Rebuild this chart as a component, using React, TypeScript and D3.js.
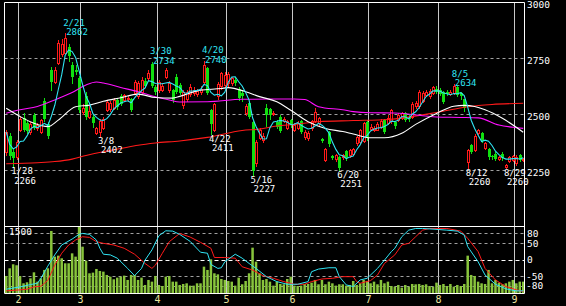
import React from "react";
import * as d3 from "d3";

const dates: string[] = [
  "1/26","1/27","1/28","1/31",
  "2/1","2/2","2/3","2/4","2/7","2/8","2/9","2/10","2/14","2/15","2/16","2/17","2/18","2/21","2/22","2/24","2/25","2/28",
  "3/1","3/2","3/3","3/4","3/7","3/8","3/9","3/10","3/11","3/14","3/15","3/16","3/17","3/18","3/22","3/23","3/24","3/25","3/28","3/29","3/30","3/31",
  "4/1","4/4","4/5","4/6","4/7","4/8","4/11","4/12","4/13","4/14","4/15","4/18","4/19","4/20","4/21","4/22","4/25","4/26","4/27","4/28",
  "5/2","5/6","5/9","5/10","5/11","5/12","5/13","5/16","5/17","5/18","5/19","5/20","5/23","5/24","5/25","5/26","5/27","5/30","5/31",
  "6/1","6/2","6/3","6/6","6/7","6/8","6/9","6/10","6/13","6/14","6/15","6/16","6/17","6/20","6/21","6/22","6/23","6/24","6/27","6/28","6/29","6/30",
  "7/1","7/4","7/5","7/6","7/7","7/8","7/11","7/12","7/13","7/14","7/15","7/19","7/20","7/21","7/22","7/25","7/26","7/27","7/28","7/29",
  "8/1","8/2","8/3","8/4","8/5","8/8","8/9","8/10","8/12","8/15","8/16","8/17","8/18","8/19","8/22","8/23","8/24","8/25","8/26","8/29","8/30","8/31",
  "9/1","9/2","9/5"
];

const opens: number[] = [
  2330,2405,2330,2310,
  2432,2482,2462,2420,2497,2440,2420,2560,2455,2700,2645,2730,2770,2775,2800,2720,2700,2660,
  2510,2580,2490,2490,2418,2420,2440,2520,2525,2530,2565,2583,2565,2570,2570,2595,2580,2600,2650,2662,2725,2623,
  2608,2610,2668,2610,2608,2665,2630,2540,2570,2590,2595,2590,2598,2645,2705,2520,2432,2580,2625,2630,
  2640,2640,2655,2612,2595,2505,2550,2465,2283,2395,2385,2528,2525,2505,2467,2490,2470,2440,2475,
  2430,2440,2468,2398,2393,2438,2470,2460,2390,2297,2420,2312,2300,2310,2308,2335,2320,2325,2370,2378,2380,2467,
  2435,2430,2432,2445,2475,2460,2468,2467,2475,2482,2504,2490,2490,2535,2535,2560,2585,2580,2595,2615,
  2610,2600,2600,2590,2594,2623,2595,2567,2285,2363,2341,2415,2415,2350,2345,2315,2325,2300,2325,2263,2290,2295,
  2282,2320,2295
];
const highs: number[] = [
  2430,2415,2345,2385,
  2490,2505,2470,2465,2505,2460,2480,2575,2465,2710,2710,2830,2835,2862,2815,2735,2720,2670,
  2545,2600,2540,2495,2445,2480,2490,2565,2560,2575,2575,2590,2590,2580,2575,2655,2650,2665,2660,2700,2734,2630,
  2655,2640,2705,2650,2615,2680,2640,2610,2610,2635,2620,2615,2625,2740,2712,2525,2550,2645,2690,2690,
  2690,2668,2665,2620,2610,2545,2555,2470,2385,2440,2415,2545,2530,2515,2475,2495,2490,2475,2480,
  2460,2470,2475,2430,2425,2475,2530,2490,2395,2350,2425,2320,2325,2315,2325,2340,2345,2350,2405,2435,2465,2475,
  2455,2450,2465,2480,2480,2495,2525,2472,2505,2512,2510,2495,2555,2560,2610,2605,2610,2612,2628,2625,
  2618,2605,2608,2610,2634,2625,2600,2570,2345,2368,2410,2435,2420,2378,2350,2320,2330,2315,2330,2280,2315,2320,
  2320,2325,2305
];
const lows: number[] = [
  2320,2300,2266,2300,
  2425,2425,2415,2410,2435,2430,2415,2470,2395,2610,2640,2725,2760,2770,2740,2640,2680,2510,
  2500,2480,2485,2445,2410,2402,2435,2515,2515,2525,2525,2540,2560,2560,2515,2590,2575,2595,2620,2655,2620,2590,
  2600,2605,2660,2600,2555,2595,2590,2530,2560,2580,2585,2580,2590,2640,2590,2411,2425,2570,2615,2620,
  2625,2630,2632,2565,2560,2495,2485,2227,2270,2390,2378,2450,2480,2495,2440,2420,2465,2435,2445,
  2425,2435,2418,2390,2385,2430,2465,2450,2375,2290,2360,2300,2290,2251,2300,2298,2310,2318,2365,2370,2375,2385,
  2430,2425,2428,2440,2418,2455,2462,2440,2470,2478,2470,2470,2485,2528,2530,2555,2580,2575,2590,2595,
  2585,2550,2585,2585,2590,2580,2570,2515,2260,2328,2335,2410,2378,2345,2300,2300,2298,2295,2298,2260,2285,2290,
  2275,2290,2290
];
const closes: number[] = [
  2420,2312,2305,2378,
  2478,2432,2425,2455,2440,2452,2474,2478,2405,2645,2700,2820,2815,2840,2760,2665,2690,2520,
  2530,2490,2515,2460,2437,2470,2480,2556,2550,2565,2534,2545,2585,2572,2520,2645,2640,2653,2628,2683,2625,2600,
  2646,2628,2698,2640,2565,2600,2595,2600,2600,2622,2608,2605,2615,2718,2595,2455,2545,2635,2683,2675,
  2680,2660,2640,2572,2580,2535,2490,2245,2378,2430,2405,2495,2495,2505,2445,2425,2480,2468,2453,
  2452,2460,2423,2422,2415,2468,2512,2482,2380,2345,2368,2305,2318,2262,2320,2305,2340,2343,2400,2430,2460,2393,
  2445,2440,2455,2470,2420,2485,2518,2447,2497,2504,2475,2477,2548,2552,2600,2596,2600,2605,2623,2600,
  2590,2556,2590,2600,2626,2587,2580,2527,2340,2333,2405,2430,2383,2372,2308,2310,2302,2308,2305,2275,2310,2312,
  2310,2295,2300
];
const volumes: number[] = [
  381,553,643,621,
  381,217,240,329,463,254,329,516,553,1389,814,836,777,665,665,888,814,1478,
  1037,724,441,456,538,493,478,404,366,307,344,366,389,292,404,404,292,344,180,292,254,381,
  180,157,366,381,254,254,180,202,217,165,165,217,217,590,516,754,441,418,314,292,
  269,254,165,344,195,269,441,1015,702,441,292,314,254,165,254,202,195,314,366,
  165,157,165,202,202,232,292,195,292,195,254,217,165,195,195,165,180,269,180,217,292,269,
  217,254,195,292,217,254,157,142,180,120,180,142,202,195,202,180,195,157,142,232,
  180,202,157,202,142,180,157,202,836,404,381,254,217,202,516,217,292,232,195,217,254,292,
  217,254,254
];

// 25-day moving average (white) at sample days
const ma25Idx: number[] = [0,4,8,12,15,20,24,28,33,38,43,48,50,56,62,64,69,73,78,82,87,92,97,100,105,109,114,118,124,129,132,135,138,143,149];
const ma25Val: number[] = [2527,2490,2460,2445,2474,2534,2541,2558,2574,2590,2575,2572,2580,2608,2615,2619,2601,2579,2556,2518,2467,2437,2423,2412,2395,2395,2415,2455,2504,2536,2540,2535,2520,2482,2420];
// 75-day moving average (magenta)
const ma75Idx: number[] = [0,4,9,14,19,23,26,28,33,38,43,47,50,58,68,76,83,86,90,97,100,105,112,124,131,136,142,146,149];
const ma75Val: number[] = [2505,2520,2535,2564,2597,2631,2644,2640,2620,2601,2578,2564,2555,2556,2567,2568,2568,2566,2534,2520,2512,2507,2506,2488,2486,2484,2452,2442,2437];
// long moving average (red)
const maLongIdx: number[] = [0,9,14,19,23,28,33,38,43,50,58,68,73,78,83,90,100,110,124,133,140,149];
const maLongVal: number[] = [2279,2284,2289,2300,2316,2333,2347,2362,2372,2381,2397,2428,2434,2448,2455,2467,2472,2477,2508,2534,2544,2549];

// RCI lines (lower panel)
const rciFastIdx: number[] = [0,4,7,9,10,12,14,16,19,21,22,24,26,27,28,30,32,35,37,39,40,42,44,46,48,50,53,56,58,59,61,62,63,66,68,70,72,75,78,81,84,87,88,90,93,95,96,98,100,102,104,107,109,111,112,114,116,118,120,123,127,130,132,133,136,138,141,144,147,149];
const rciFastVal: number[] = [-90,-83,-76,-72,-57,-20,14,44,62,76,79,76,59,34,16,14,4,-27,-49,-27,-2,29,72,87,86,76,55,22,19,-15,-27,-25,-7,16,4,-12,-27,-52,-67,-75,-75,-67,-37,-29,-25,-25,-52,-77,-82,-62,-57,-27,-2,24,34,69,89,94,94,92,89,86,74,39,-7,-47,-75,-89,-95,-95];
const rciSlowIdx: number[] = [0,4,6,8,10,12,14,16,18,20,22,24,26,28,31,34,37,40,42,43,45,47,50,53,56,59,60,63,66,68,71,74,77,80,83,86,88,91,94,97,100,101,102,105,107,109,112,114,116,118,120,122,127,131,133,136,138,141,144,147,149];
const rciSlowVal: number[] = [-95,-92,-90,-83,-81,-63,-17,19,44,59,69,67,54,49,44,34,16,-12,-27,-17,19,54,79,68,52,34,6,6,4,-22,-32,-49,-57,-67,-75,-75,-67,-59,-57,-52,-52,-67,-72,-64,-47,-12,14,44,49,69,89,94,94,86,64,24,-27,-62,-82,-92,-97];

const hiMarks: number[] = [17, 42, 57, 129];
const loMarks: number[] = [2, 27, 59, 71, 96, 133, 144];
const priceTicks: number[] = [3000, 2750, 2500, 2250];
const rciTicks: number[] = [80, 50, 0, -50, -80];
const volMax = 1500;

const RED = "#ff1a1a";
const GREEN = "#10e010";
const CYAN = "#30e4f4";
const MAGENTA = "#ff10ff";
const VOL = "#88c43c";
const FONT = "DejaVu Sans Mono";

export default function App() {
  const N = closes.length;
  const L = 4.5, R = 524.5, TOP = 2.5, MID = 226.5, BOT = 293.5;
  const x = d3.scaleLinear().domain([0, N - 1]).range([6.2, 6.2 + (N - 1) * 3.47]);
  const yP = d3.scaleLinear().domain([2000, 3000]).range([226.3, 2.3]);
  const yV = d3.scaleLinear().domain([0, volMax]).range([293, 226]);
  const yR = d3.scaleLinear().domain([-100, 100]).range([292.5, 226.5]);

  const ma5 = closes.map((_, i) => d3.mean(closes.slice(Math.max(0, i - 4), i + 1)) as number);
  const lineIdx = d3.line<number>().x((_, i) => x(i)).y((d) => yP(d));
  const pairs = (idx: number[], val: number[]) => idx.map((d, k) => [d, val[k]] as [number, number]);
  const lineMA = d3.line<[number, number]>().x((d) => x(d[0])).y((d) => yP(d[1])).curve(d3.curveMonotoneX);
  const lineR = d3.line<[number, number]>().x((d) => x(d[0])).y((d) => yR(d[1]));

  const monthOf = (s: string) => +s.split("/")[0];
  const monthLines: { mx: number; m: number }[] = [];
  for (let i = 1; i < N; i++) {
    if (monthOf(dates[i]) !== monthOf(dates[i - 1])) {
      monthLines.push({ mx: Math.floor((x(i - 1) + x(i)) / 2) + 0.5, m: monthOf(dates[i]) });
    }
  }

  return (
    <div style={{ position: "fixed", left: 0, top: 0, width: 566, height: 306, background: "#000" }}>
      <svg width={566} height={306} style={{ display: "block" }} fontFamily={FONT}>
        <defs>
          <clipPath id="cpMain"><rect x={L} y={TOP} width={R - L} height={MID - TOP} /></clipPath>
          <clipPath id="cpLow"><rect x={L} y={MID} width={R - L} height={BOT - MID} /></clipPath>
        </defs>
        <rect x={0} y={0} width={566} height={306} fill="#000" />

        {/* month lines */}
        {monthLines.map((d) => (
          <line key={"ml" + d.m} x1={d.mx} x2={d.mx} y1={TOP} y2={BOT} stroke="#c8c8c8" strokeWidth={1} />
        ))}

        {/* price grid */}
        {priceTicks.filter((t) => t < 3000).map((t) => (
          <line key={"pg" + t} x1={L} x2={R} y1={Math.round(yP(t)) + 0.5} y2={Math.round(yP(t)) + 0.5}
            stroke="#a0a0a0" strokeDasharray="3,3" />
        ))}

        {/* lower grid */}
        {rciTicks.map((t) => (
          <line key={"rg" + t} x1={L} x2={R} y1={Math.round(yR(t)) + 0.5} y2={Math.round(yR(t)) + 0.5}
            stroke={t === 0 ? "#ffffff" : "#a0a0a0"} strokeDasharray={t === 0 ? "4,3" : "3,3"} />
        ))}

        {/* volume + RCI */}
        <g clipPath="url(#cpLow)">
          {volumes.map((v, i) => (
            <rect key={"v" + i} x={x(i) - 1.25} y={yV(v)} width={2.5} height={yV(0) - yV(v)} fill={VOL} />
          ))}
          <path d={lineR(pairs(rciSlowIdx, rciSlowVal)) || ""} fill="none" stroke={RED} strokeWidth={1} />
          <path d={lineR(pairs(rciFastIdx, rciFastVal)) || ""} fill="none" stroke={CYAN} strokeWidth={1} />
        </g>

        {/* candles */}
        <g clipPath="url(#cpMain)" shapeRendering="crispEdges">
          {closes.map((c, i) => {
            const o = opens[i];
            const cx = Math.round(x(i));
            const yT = Math.round(yP(Math.max(o, c)));
            const yB = Math.round(yP(Math.min(o, c)));
            const yH = Math.round(yP(highs[i]));
            const yL = Math.round(yP(lows[i]));
            if (c >= o) {
              return (
                <g key={"c" + i}>
                  <line x1={cx + 0.5} x2={cx + 0.5} y1={yH} y2={yL + 1} stroke={RED} />
                  <rect x={cx - 0.5} y={yT + 0.5} width={2} height={Math.max(1, yB - yT)} fill="#000" stroke={RED} />
                </g>
              );
            }
            return (
              <g key={"c" + i}>
                <line x1={cx + 0.5} x2={cx + 0.5} y1={yH} y2={yL + 1} stroke={GREEN} />
                <rect x={cx - 1} y={yT} width={3} height={Math.max(1, yB - yT)} fill={GREEN} />
              </g>
            );
          })}
        </g>

        {/* moving averages */}
        <g clipPath="url(#cpMain)" fill="none" strokeWidth={1.1}>
          <path d={lineMA(pairs(maLongIdx, maLongVal)) || ""} stroke={RED} />
          <path d={lineMA(pairs(ma75Idx, ma75Val)) || ""} stroke={MAGENTA} />
          <path d={lineMA(pairs(ma25Idx, ma25Val)) || ""} stroke="#ffffff" />
          <path d={lineIdx(ma5) || ""} stroke={CYAN} />
        </g>

        {/* high / low labels */}
        <g fontSize={9}>
          {hiMarks.map((i) => (
            <g key={"h" + i} fill={CYAN}>
              <text x={x(i) - 2} y={yP(highs[i]) - 7.5}>{dates[i]}</text>
              <text x={x(i) + 1} y={yP(highs[i]) + 2}>{highs[i]}</text>
            </g>
          ))}
          {loMarks.map((i) => (
            <g key={"l" + i} fill="#ffffff">
              <text x={x(i) - 2} y={yP(lows[i]) + 7.5}>{dates[i]}</text>
              <text x={x(i) + 1} y={yP(lows[i]) + 17}>{lows[i]}</text>
            </g>
          ))}
        </g>

        {/* frame */}
        <g stroke="#ffffff" strokeWidth={1}>
          <line x1={L} x2={R} y1={TOP} y2={TOP} />
          <line x1={L} x2={L} y1={TOP} y2={BOT} />
          <line x1={R} x2={R} y1={TOP} y2={BOT} />
          <line x1={L} x2={R} y1={MID} y2={MID} />
          <line x1={L} x2={R} y1={BOT} y2={BOT} />
        </g>

        {/* right axis labels */}
        <g fontSize={9.5} fill="#ffffff">
          {priceTicks.map((t) => (
            <text key={"pt" + t} x={527} y={yP(t) + 6}>{t}</text>
          ))}
          {rciTicks.map((t) => (
            <text key={"rt" + t} x={t < 0 ? 526 : 527} y={yR(t) + 3.5}>{t}</text>
          ))}
          <text x={9} y={235}>{volMax}</text>
        </g>

        {/* month labels */}
        <g fontSize={10} fill="#ece6a0" textAnchor="middle">
          {monthLines.map((d) => (
            <text key={"mt" + d.m} x={d.mx} y={302.5}>{d.m}</text>
          ))}
        </g>
      </svg>
    </div>
  );
}
